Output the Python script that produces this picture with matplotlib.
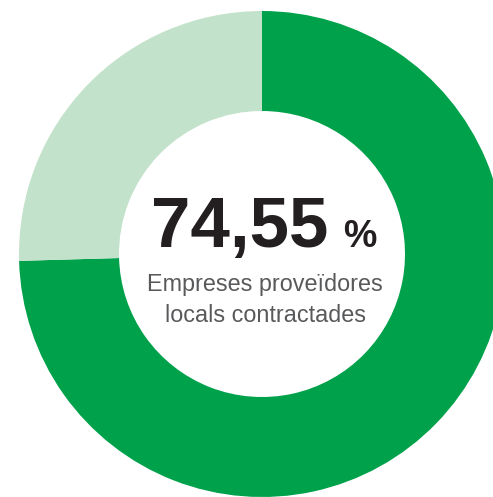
import matplotlib
matplotlib.use("Agg")
import matplotlib.pyplot as plt

labels = ["Empreses proveïdores locals contractades", "Altres"]
values = [74.55, 25.45]
colors = ["#00A14B", "#C3E2CB"]
big_value = "74,55"
subtitle = ["Empreses proveïdores", "locals contractades"]

W, H = 493, 497
fig = plt.figure(figsize=(W / 100, H / 100), dpi=100)
ax = fig.add_axes([0, 0, 1, 1])

cx, cy = 262, H - 254
R_out, R_in = 243, 143
ax.pie(values, colors=colors, startangle=90, counterclock=False,
       center=(cx, cy), radius=R_out,
       wedgeprops=dict(width=R_out - R_in, linewidth=0), frame=True)
ax.set_xlim(0, W)
ax.set_ylim(0, H)
ax.set_aspect("equal")
ax.axis("off")

fam = ["Liberation Sans", "DejaVu Sans"]
ax.text(328, H - 247, big_value, ha="right", va="baseline", fontsize=51,
        fontweight="bold", color="#231F20", family=fam)
ax.text(343, H - 247, "%", ha="left", va="baseline", fontsize=27,
        fontweight="bold", color="#231F20", family=fam)
ax.text(264.5, H - 291, subtitle[0], ha="center", va="baseline", fontsize=16.8,
        color="#58595B", family=fam)
ax.text(265.5, H - 322, subtitle[1], ha="center", va="baseline", fontsize=16.8,
        color="#58595B", family=fam)

fig.savefig("out.png", dpi=100, facecolor="white")
